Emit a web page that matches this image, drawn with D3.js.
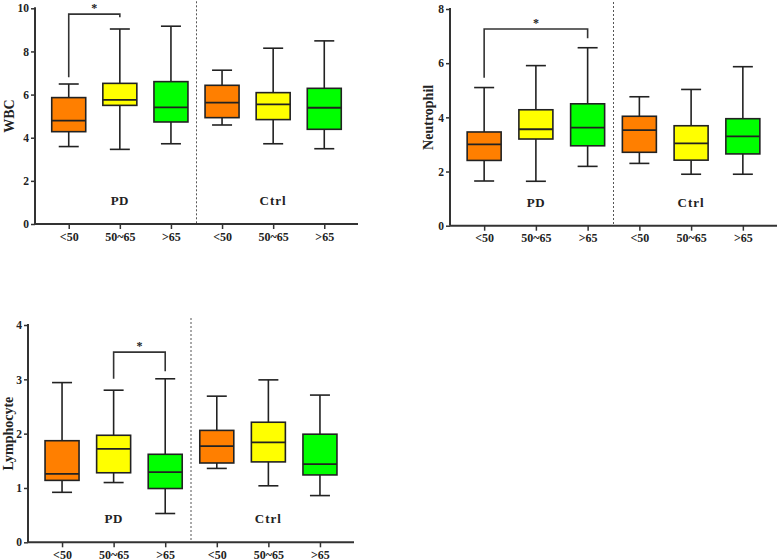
<!DOCTYPE html>
<html>
  <head>
    <script src="https://cdnjs.cloudflare.com/ajax/libs/d3/7.8.5/d3.min.js"></script>
<style>
  body { margin: 0; background: #fff; }
  svg text { font-family: "Liberation Serif", "DejaVu Serif", serif; font-weight: bold; fill: #222; }
</style>
  </head>
  <body>
    <div id="vis"></div>
    <script type="text/javascript">

        // categories
        const groups = ["PD", "PD", "PD", "Ctrl", "Ctrl", "Ctrl"];
        const ages = ["<50", "50~65", ">65", "<50", "50~65", ">65"];
        const groupNames = ["PD", "Ctrl"];

        // [min, q1, median, q3, max] per category
        const wbcStats = [
            [3.59, 4.28, 4.79, 5.86, 6.49],
            [3.46, 5.50, 5.75, 6.52, 9.04],
            [3.72, 4.73, 5.41, 6.60, 9.17],
            [4.59, 4.93, 5.63, 6.43, 7.13],
            [3.72, 4.84, 5.55, 6.09, 8.15],
            [3.49, 4.39, 5.39, 6.29, 8.49]
        ];
        const neutStats = [
            [1.65, 2.41, 3.00, 3.46, 5.10],
            [1.64, 3.20, 3.56, 4.28, 5.91],
            [2.19, 2.95, 3.62, 4.50, 6.57],
            [2.30, 2.71, 3.53, 4.04, 4.76],
            [1.90, 2.42, 3.04, 3.69, 5.03],
            [1.90, 2.65, 3.30, 3.95, 5.87]
        ];
        const lymphStats = [
            [0.92, 1.14, 1.26, 1.87, 2.94],
            [1.10, 1.28, 1.72, 1.97, 2.80],
            [0.53, 0.99, 1.29, 1.62, 3.01],
            [1.36, 1.46, 1.77, 2.06, 2.69],
            [1.04, 1.48, 1.84, 2.21, 2.99],
            [0.86, 1.24, 1.44, 1.99, 2.71]
        ];

        // significance brackets: [fromIndex, toIndex, barY, leftEnd, rightEnd]
        const wbcSig = [0, 1, 9.73, 6.8, 9.58];
        const neutSig = [0, 2, 7.26, 5.46, 6.92];
        const lymphSig = [1, 2, 3.50, 3.01, 3.15];

        const wbcTicks = [0, 2, 4, 6, 8, 10];
        const neutTicks = [0, 2, 4, 6, 8];
        const lymphTicks = [0, 1, 2, 3, 4];

        const fills = ["#ff7f00", "#ffff00", "#00ff00", "#ff7f00", "#ffff00", "#00ff00"];
        const ink = "#222";
        const serif = "'Liberation Serif', 'DejaVu Serif', serif";

        const width = 778, height = 559;
        const svg = d3.select("#vis").append("svg")
            .attr("width", width)
            .attr("height", height);

        const keys = d3.range(ages.length);

        function drawPanel(p) {
            const g = svg.append("g");
            const x = d3.scalePoint().domain(keys).range([p.x0, p.x1]).padding(0.66);
            const y = d3.scaleLinear().domain([0, p.ticks[p.ticks.length - 1]]).range([p.y0, p.y1]);

            // divider between PD and Ctrl
            const mid = (x(2) + x(3)) / 2;
            g.append("line")
                .attr("x1", mid).attr("x2", mid)
                .attr("y1", p.y1 - 7).attr("y2", p.y0)
                .attr("stroke", "#555").attr("stroke-width", 1)
                .attr("stroke-dasharray", "2,2");

            const boxW = 34, capW = 20;
            const box = g.selectAll("g.box").data(p.stats).join("g").attr("class", "box");
            box.append("line")
                .attr("x1", (d, i) => x(i)).attr("x2", (d, i) => x(i))
                .attr("y1", d => y(d[0])).attr("y2", d => y(d[4]))
                .attr("stroke", ink).attr("stroke-width", 1.6);
            box.append("line")
                .attr("x1", (d, i) => x(i) - capW / 2).attr("x2", (d, i) => x(i) + capW / 2)
                .attr("y1", d => y(d[0])).attr("y2", d => y(d[0]))
                .attr("stroke", ink).attr("stroke-width", 1.6);
            box.append("line")
                .attr("x1", (d, i) => x(i) - capW / 2).attr("x2", (d, i) => x(i) + capW / 2)
                .attr("y1", d => y(d[4])).attr("y2", d => y(d[4]))
                .attr("stroke", ink).attr("stroke-width", 1.6);
            box.append("rect")
                .attr("x", (d, i) => x(i) - boxW / 2)
                .attr("width", boxW)
                .attr("y", d => y(d[3]))
                .attr("height", d => y(d[1]) - y(d[3]))
                .attr("fill", (d, i) => fills[i])
                .attr("stroke", ink).attr("stroke-width", 1.6);
            box.append("line")
                .attr("x1", (d, i) => x(i) - boxW / 2).attr("x2", (d, i) => x(i) + boxW / 2)
                .attr("y1", d => y(d[2])).attr("y2", d => y(d[2]))
                .attr("stroke", ink).attr("stroke-width", 1.8);

            // axes
            const yAxis = g.append("g")
                .attr("transform", "translate(" + p.x0 + ",0)")
                .call(d3.axisLeft(y).tickValues(p.ticks).tickSize(4).tickPadding(2).tickFormat(d3.format("d")));
            const xAxis = g.append("g")
                .attr("transform", "translate(0," + p.y0 + ")")
                .call(d3.axisBottom(x).tickSize(5).tickPadding(3).tickFormat(i => ages[i]));
            xAxis.select(".domain").attr("d", "M" + p.x0 + ",0H" + p.x1);
            yAxis.select(".domain").attr("d", "M0," + p.y0 + "V" + (p.y1 - 1));
            [xAxis, yAxis].forEach(a => {
                a.attr("font-family", serif);
                a.select(".domain").attr("stroke", "#333").attr("stroke-width", 2);
                a.selectAll(".tick line").attr("stroke", "#333").attr("stroke-width", 1.5);
                a.selectAll("text").attr("fill", ink).attr("font-family", serif);
            });
            xAxis.selectAll("text").attr("font-size", 12);
            yAxis.selectAll("text").attr("font-size", 11.5);

            // group labels
            groupNames.forEach((name, gi) => {
                g.append("text")
                    .attr("x", x(gi * 3 + 1)).attr("y", p.y0 - 19)
                    .attr("text-anchor", "middle")
                    .attr("font-family", serif)
                    .attr("font-size", 13)
                    .attr("letter-spacing", name === "Ctrl" ? 1 : 0.5)
                    .text(name);
            });

            // y axis title
            g.append("text")
                .attr("transform", "translate(" + p.titleX + "," + ((p.y0 + p.y1) / 2) + ") rotate(-90)")
                .attr("text-anchor", "middle")
                .attr("dy", "0.35em")
                .attr("font-family", serif)
                .attr("font-size", 14)
                .text(p.title);

            // significance bracket
            const s = p.sig;
            const bx1 = x(s[0]), bx2 = x(s[1]);
            g.append("path")
                .attr("d", "M" + bx1 + "," + y(s[3]) + "V" + y(s[2]) + "H" + bx2 + "V" + y(s[4]))
                .attr("fill", "none").attr("stroke", "#333").attr("stroke-width", 1.6);
            g.append("text")
                .attr("x", (bx1 + bx2) / 2).attr("y", y(s[2]) - 2)
                .attr("text-anchor", "middle")
                .attr("font-family", serif)
                .attr("font-size", 12)
                .text("*");
        }

        drawPanel({ title: "WBC", stats: wbcStats, sig: wbcSig, ticks: wbcTicks,
            x0: 35, x1: 358, y0: 224, y1: 8.3, titleX: 9 });
        drawPanel({ title: "Neutrophil", stats: neutStats, sig: neutSig, ticks: neutTicks,
            x0: 450, x1: 777, y0: 225.7, y1: 9, titleX: 428 });
        drawPanel({ title: "Lymphocyte", stats: lymphStats, sig: lymphSig, ticks: lymphTicks,
            x0: 28, x1: 354, y0: 542.3, y1: 325, titleX: 8 });

    </script>
  </body>
</html>
